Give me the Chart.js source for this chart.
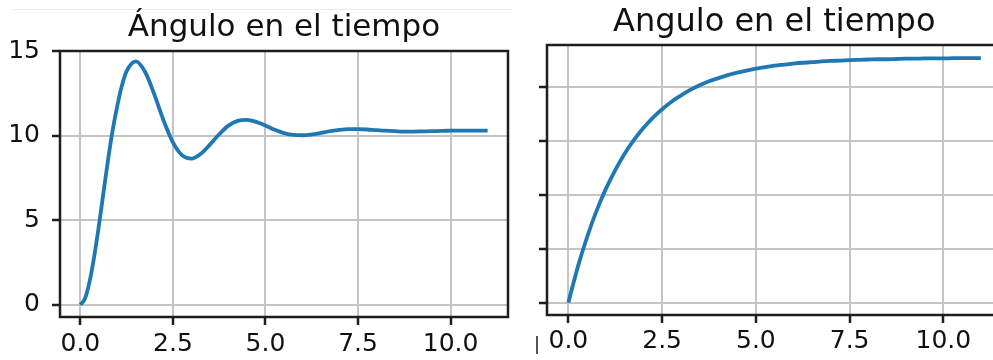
<!DOCTYPE html>
<html><head><meta charset="utf-8">
<script src="https://cdn.jsdelivr.net/npm/chart.js@4.4.0/dist/chart.umd.min.js"></script>
<style>
html,body{margin:0;padding:0;background:#fff;width:993px;height:360px;overflow:hidden;position:relative}
#c1{position:absolute;left:0;top:0}
#c2{position:absolute;left:520px;top:0}
#topline{position:absolute;left:13px;top:9px;width:500px;height:1px;background:#ececec}
#cursor{position:absolute;left:536px;top:336px;width:2px;height:18px;background:#555}
</style></head><body>
<div id="topline"></div>
<canvas id="c1" width="515" height="360"></canvas>
<canvas id="c2" width="490" height="360"></canvas>
<div id="cursor"></div>
<script>
// ---- data ----
const tiempoIzq = [0,0.125,0.25,0.375,0.5,0.625,0.75,0.875,1,1.125,1.25,1.5,1.75,2,2.25,2.5,2.75,3,3.25,3.5,3.75,4,4.25,4.5,4.75,5,5.25,5.5,5.75,6,6.25,6.5,6.75,7,7.25,7.5,7.75,8,8.25,8.5,8.75,9,9.25,9.5,9.75,10,10.25,10.5,10.75,11];
const anguloOscilante = [0,0.37,1.38,2.87,4.67,6.65,8.6,10.35,11.79,12.98,13.81,14.39,13.76,12.42,10.88,9.60,8.83,8.64,8.92,9.47,10.08,10.59,10.87,10.93,10.81,10.59,10.34,10.15,10.04,10.02,10.07,10.16,10.26,10.34,10.38,10.38,10.36,10.32,10.29,10.26,10.24,10.24,10.25,10.26,10.28,10.29,10.30,10.30,10.29,10.29];
const tiempoDer = [0,0.25,0.5,0.75,1,1.25,1.5,1.75,2,2.25,2.5,2.75,3,3.25,3.5,3.75,4,4.25,4.5,4.75,5,5.25,5.5,5.75,6,6.25,6.5,6.75,7,7.25,7.5,7.75,8,8.25,8.5,8.75,9,9.25,9.5,9.75,10,10.25,10.5,10.75,11];
const anguloAmortiguado = [0,1.32,2.44,3.41,4.23,4.93,5.54,6.05,6.49,6.87,7.19,7.47,7.70,7.91,8.08,8.23,8.35,8.46,8.55,8.63,8.70,8.76,8.81,8.85,8.89,8.92,8.94,8.97,8.99,9.00,9.02,9.03,9.04,9.05,9.05,9.06,9.07,9.07,9.08,9.08,9.08,9.09,9.09,9.09,9.09];
const xTicks = [0,2.5,5,7.5,10];
const xTickLabels = ['0.0','2.5','5.0','7.5','10.0'];
const yTicksIzq = [0,5,10,15];
const yTickLabelsIzq = ['0','5','10','15'];
const yTicksDer = [0,2,4,6,8];
const tituloIzq = 'Ángulo en el tiempo';
const tituloDer = 'Angulo en el tiempo';

// ---- drawing ----
const FONT = '"DejaVu Sans", "Liberation Sans", sans-serif';
const framePlugin = {
  id: 'frame',
  afterDraw(chart, args, opts) {
    const {ctx, chartArea: a} = chart;
    ctx.save();
    ctx.strokeStyle = '#1e1e1e';
    ctx.lineWidth = 2.5;
    ctx.strokeRect(a.left, a.top, a.right - a.left, a.bottom - a.top);
    ctx.font = opts.size + 'px ' + FONT;
    ctx.fillStyle = '#111';
    ctx.textAlign = 'center';
    ctx.textBaseline = 'alphabetic';
    ctx.fillText(opts.text, (a.left + a.right) / 2, opts.baseline);
    ctx.restore();
  }
};

function makeChart(id, times, values, cfg) {
  const grid = {color: '#c4c4c4', lineWidth: 2, tickLength: 8, tickColor: '#1e1e1e', tickWidth: 2.5};
  return new Chart(document.getElementById(id), {
    type: 'line',
    data: {
      datasets: [{
        data: times.map((t, i) => ({x: t, y: values[i]})),
        borderColor: '#1f77b4',
        borderWidth: 3.8,
        pointRadius: 0,
        fill: false,
        cubicInterpolationMode: 'monotone'
      }]
    },
    options: {
      responsive: false,
      animation: false,
      events: [],
      layout: {padding: cfg.padding},
      plugins: {
        legend: {display: false},
        tooltip: {enabled: false},
        frame: {text: cfg.title, size: cfg.titleSize, baseline: cfg.titleBaseline}
      },
      scales: {
        x: {
          type: 'linear',
          min: cfg.xMin, max: cfg.xMax,
          afterBuildTicks: s => { s.ticks = xTicks.map(v => ({value: v})); },
          afterFit: s => { s.height = cfg.xHeight; },
          ticks: {
            callback: (v, i) => xTickLabels[i],
            font: {family: FONT, size: 25},
            color: '#111',
            padding: cfg.xPad,
            maxRotation: 0,
            autoSkip: false
          },
          grid: grid,
          border: {display: false}
        },
        y: {
          type: 'linear',
          min: cfg.yMin, max: cfg.yMax,
          afterBuildTicks: s => { s.ticks = cfg.yTicks.map(v => ({value: v})); },
          afterFit: s => { s.width = cfg.yWidth; },
          ticks: {
            display: cfg.yLabels !== null,
            callback: (v, i) => cfg.yLabels ? cfg.yLabels[i] : '',
            font: {family: FONT, size: 25},
            color: '#111',
            padding: 12,
            autoSkip: false
          },
          grid: grid,
          border: {display: false}
        }
      }
    },
    plugins: [framePlugin]
  });
}

makeChart('c1', tiempoIzq, anguloOscilante, {
  padding: {left: 0, right: 7, top: 51, bottom: 0},
  xMin: -0.55, xMax: 11.55, yMin: -0.72, yMax: 15.0,
  yTicks: yTicksIzq, yLabels: yTickLabelsIzq,
  yWidth: 60, xHeight: 43, xPad: 4,
  title: tituloIzq, titleSize: 31, titleBaseline: 36
});
makeChart('c2', tiempoDer, anguloAmortiguado, {
  padding: {left: 0, right: 8.5, top: 45, bottom: 0},
  xMin: -0.57, xMax: 11.55, yMin: -0.46, yMax: 9.58,
  yTicks: yTicksDer, yLabels: null,
  yWidth: 27, xHeight: 45, xPad: 3,
  title: tituloDer, titleSize: 32, titleBaseline: 31
});
</script>
</body></html>
